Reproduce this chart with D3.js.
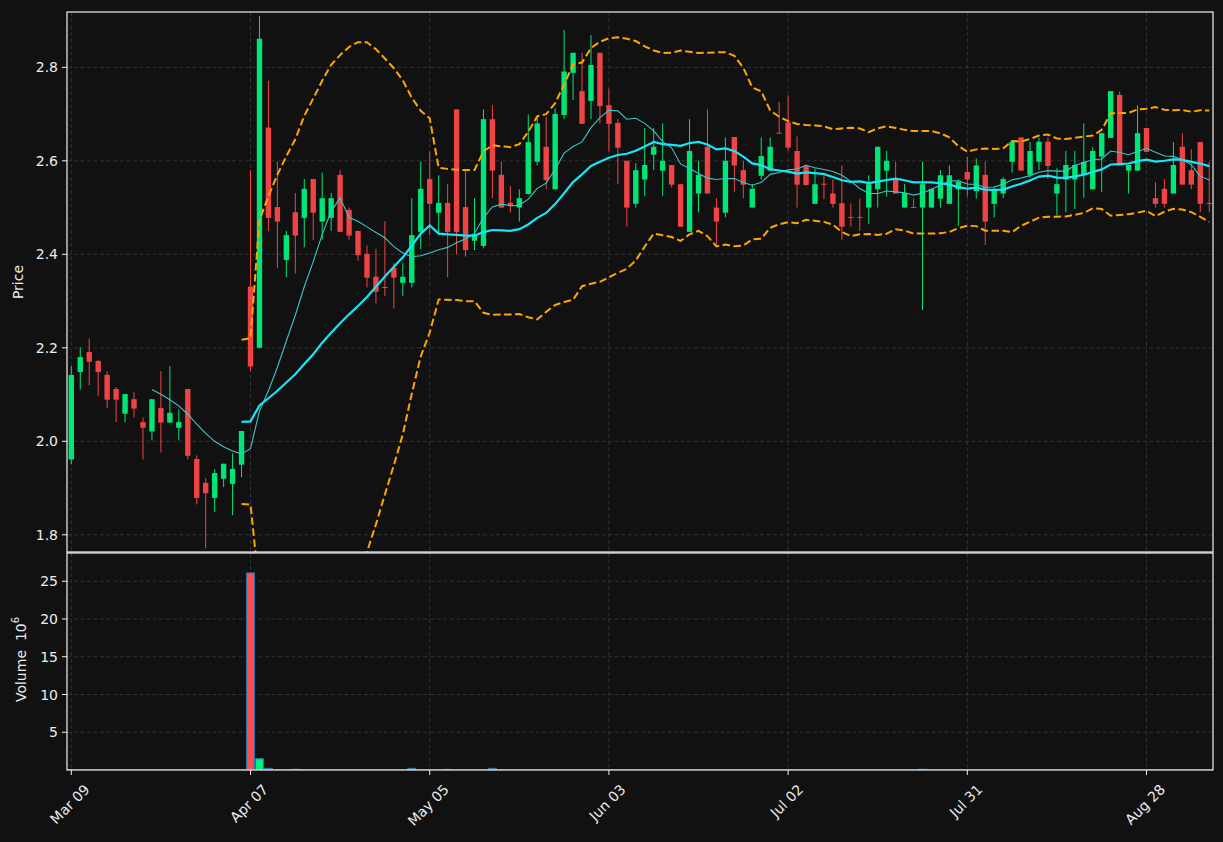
<!DOCTYPE html>
<html><head><meta charset="utf-8">
<script src="https://cdn.jsdelivr.net/npm/d3@7"></script>
<style>html,body{margin:0;background:#111111;} svg{display:block;font-family:"DejaVu Sans",sans-serif;}</style>
</head><body><svg id="c" width="1223" height="842"></svg>
<script>
// ---------- data ----------
const dates = [
"2015-03-09","2015-03-10","2015-03-11","2015-03-12","2015-03-13","2015-03-16","2015-03-17","2015-03-18","2015-03-19","2015-03-20",
"2015-03-23","2015-03-24","2015-03-25","2015-03-26","2015-03-27","2015-03-30","2015-03-31","2015-04-01","2015-04-02","2015-04-06",
"2015-04-07","2015-04-08","2015-04-09","2015-04-10","2015-04-13","2015-04-14","2015-04-15","2015-04-16","2015-04-17","2015-04-20",
"2015-04-21","2015-04-22","2015-04-23","2015-04-24","2015-04-27","2015-04-28","2015-04-29","2015-04-30","2015-05-01","2015-05-04",
"2015-05-05","2015-05-06","2015-05-07","2015-05-08","2015-05-11","2015-05-12","2015-05-13","2015-05-14","2015-05-15","2015-05-18",
"2015-05-19","2015-05-20","2015-05-21","2015-05-22","2015-05-26","2015-05-27","2015-05-28","2015-05-29","2015-06-01","2015-06-02",
"2015-06-03","2015-06-04","2015-06-05","2015-06-08","2015-06-09","2015-06-10","2015-06-11","2015-06-12","2015-06-15","2015-06-16",
"2015-06-17","2015-06-18","2015-06-22","2015-06-23","2015-06-24","2015-06-25","2015-06-26","2015-06-29","2015-06-30","2015-07-01",
"2015-07-02","2015-07-06","2015-07-07","2015-07-08","2015-07-09","2015-07-10","2015-07-13","2015-07-14","2015-07-15","2015-07-16",
"2015-07-17","2015-07-20","2015-07-21","2015-07-22","2015-07-23","2015-07-24","2015-07-27","2015-07-28","2015-07-29","2015-07-30",
"2015-07-31","2015-08-03","2015-08-04","2015-08-05","2015-08-06","2015-08-07","2015-08-10","2015-08-11","2015-08-12","2015-08-13",
"2015-08-14","2015-08-17","2015-08-18","2015-08-19","2015-08-20","2015-08-21","2015-08-24","2015-08-25","2015-08-26","2015-08-27",
"2015-08-28","2015-08-31","2015-09-01","2015-09-02","2015-09-03","2015-09-04","2015-09-08","2015-09-09"];

const open = [
1.961,2.148,2.191,2.172,2.142,2.112,2.059,2.090,2.041,2.021,
2.071,2.040,2.029,2.112,1.962,1.911,1.879,1.920,1.909,1.950,
2.331,2.200,2.671,2.501,2.388,2.490,2.478,2.561,2.470,2.478,
2.570,2.495,2.450,2.401,2.352,2.330,2.371,2.339,2.339,2.448,
2.561,2.489,2.510,2.710,2.501,2.429,2.418,2.689,2.570,2.510,
2.500,2.529,2.598,2.630,2.539,2.698,2.788,2.749,2.728,2.831,
2.719,2.681,2.600,2.508,2.560,2.613,2.579,2.591,2.550,2.448,
2.530,2.630,2.500,2.489,2.651,2.580,2.500,2.568,2.579,2.660,
2.682,2.621,2.590,2.508,2.551,2.530,2.509,2.480,2.480,2.500,
2.539,2.579,2.560,2.500,2.501,2.500,2.500,2.519,2.508,2.539,
2.576,2.535,2.570,2.508,2.530,2.598,2.650,2.570,2.598,2.641,
2.530,2.560,2.560,2.570,2.539,2.609,2.649,2.741,2.579,2.579,
2.670,2.520,2.540,2.530,2.630,2.580,2.640,2.510];
const high = [
2.161,2.201,2.220,2.173,2.150,2.116,2.101,2.105,2.051,2.090,
2.150,2.161,2.068,2.112,1.970,1.921,1.940,1.952,1.974,2.022,
2.580,2.910,2.771,2.598,2.450,2.531,2.561,2.561,2.575,2.531,
2.580,2.500,2.450,2.419,2.412,2.471,2.381,2.381,2.520,2.598,
2.620,2.569,2.550,2.710,2.580,2.520,2.710,2.719,2.598,2.546,
2.539,2.699,2.694,2.694,2.712,2.880,2.831,2.831,2.869,2.831,
2.755,2.689,2.600,2.595,2.670,2.670,2.680,2.591,2.550,2.689,
2.600,2.710,2.520,2.650,2.651,2.600,2.550,2.650,2.650,2.726,
2.740,2.652,2.590,2.583,2.568,2.560,2.590,2.509,2.519,2.569,
2.630,2.621,2.598,2.550,2.519,2.598,2.541,2.580,2.590,2.560,
2.609,2.605,2.598,2.545,2.565,2.644,2.650,2.640,2.649,2.650,
2.584,2.621,2.621,2.680,2.629,2.659,2.749,2.748,2.591,2.719,
2.670,2.554,2.561,2.640,2.659,2.625,2.640,2.598];
const low = [
1.951,2.111,2.120,2.096,2.071,2.041,2.041,2.051,1.961,2.002,
1.976,2.040,2.002,1.961,1.865,1.771,1.849,1.902,1.842,1.923,
2.150,2.199,2.450,2.370,2.351,2.359,2.415,2.431,2.431,2.450,
2.447,2.431,2.386,2.329,2.295,2.311,2.284,2.311,2.329,2.411,
2.441,2.441,2.351,2.400,2.395,2.409,2.413,2.520,2.500,2.489,
2.470,2.528,2.590,2.540,2.539,2.689,2.730,2.679,2.689,2.680,
2.620,2.550,2.459,2.500,2.524,2.580,2.525,2.543,2.459,2.448,
2.490,2.530,2.418,2.479,2.534,2.520,2.500,2.560,2.579,2.659,
2.621,2.500,2.548,2.508,2.518,2.500,2.431,2.459,2.450,2.465,
2.500,2.523,2.530,2.500,2.500,2.281,2.500,2.500,2.508,2.461,
2.523,2.519,2.420,2.479,2.520,2.575,2.579,2.563,2.580,2.561,
2.483,2.490,2.497,2.521,2.539,2.533,2.649,2.590,2.530,2.579,
2.619,2.500,2.500,2.530,2.549,2.539,2.490,2.490];
const close = [
2.142,2.180,2.170,2.148,2.089,2.089,2.101,2.070,2.029,2.090,
2.040,2.061,2.041,1.969,1.879,1.889,1.932,1.952,1.941,2.022,
2.160,2.861,2.478,2.470,2.441,2.440,2.540,2.489,2.520,2.520,
2.448,2.440,2.398,2.350,2.320,2.329,2.350,2.352,2.441,2.540,
2.508,2.510,2.448,2.448,2.409,2.441,2.689,2.579,2.500,2.505,
2.520,2.640,2.680,2.559,2.700,2.791,2.831,2.679,2.805,2.717,
2.679,2.628,2.500,2.580,2.591,2.630,2.600,2.549,2.459,2.621,
2.570,2.530,2.470,2.600,2.590,2.549,2.540,2.610,2.630,2.659,
2.628,2.549,2.548,2.550,2.550,2.508,2.459,2.479,2.479,2.550,
2.630,2.600,2.530,2.531,2.500,2.550,2.540,2.569,2.569,2.555,
2.560,2.590,2.470,2.537,2.561,2.641,2.579,2.621,2.641,2.589,
2.550,2.591,2.591,2.598,2.621,2.659,2.749,2.590,2.591,2.659,
2.619,2.508,2.508,2.591,2.549,2.549,2.508,2.509];
// volume in millions
const volume = [
0.02,0.02,0.02,0.02,0.02,0.02,0.02,0.02,0.02,0.02,
0.02,0.02,0.02,0.02,0.02,0.02,0.02,0.02,0.02,0.02,
26.1,1.50,0.22,0.02,0.02,0.10,0.02,0.02,0.02,0.02,
0.02,0.02,0.02,0.02,0.02,0.02,0.02,0.02,0.22,0.02,
0.02,0.02,0.08,0.02,0.02,0.02,0.02,0.22,0.02,0.02,
0.02,0.02,0.02,0.02,0.02,0.02,0.02,0.02,0.02,0.02,
0.02,0.02,0.02,0.02,0.02,0.02,0.02,0.02,0.02,0.02,
0.02,0.02,0.02,0.02,0.02,0.02,0.02,0.02,0.02,0.02,
0.02,0.02,0.02,0.02,0.02,0.02,0.02,0.02,0.02,0.02,
0.02,0.02,0.02,0.02,0.02,0.10,0.02,0.02,0.02,0.02,
0.02,0.02,0.02,0.02,0.02,0.02,0.02,0.02,0.02,0.02,
0.02,0.02,0.02,0.02,0.02,0.02,0.02,0.02,0.02,0.02,
0.02,0.02,0.02,0.02,0.02,0.02,0.02,0.02];

const priceTicks = [1.8, 2.0, 2.2, 2.4, 2.6, 2.8];
const priceTickLabels = ["1.8", "2.0", "2.2", "2.4", "2.6", "2.8"];
const volumeTicks = [5, 10, 15, 20, 25];
const volumeTickLabels = ["5", "10", "15", "20", "25"];
const xTickIndex = [0, 20, 40, 60, 80, 100, 120];
const maShort = 10, maLong = 20, bbWindow = 20, bbK = 2;

// ---------- layout ----------
const svg = d3.select("#c");
const W = 1223, H = 842;
const L = 67, R = 1213;
const pTop = 12, pBot = 552, vTop = 553, vBot = 770;
const C = {
  bg: "#111111", up: "#00e676", down: "#f04444", volUp: "#00f080", volDown: "#ff4d4d",
  volEdge: "#1f77b4", grid: "#3a3a3a", spine: "#f2f2f2", text: "#ececec",
  maS: "#3cc6c6", maL: "#16e6f5", bb: "#ffa500"
};
svg.append("rect").attr("width", W).attr("height", H).attr("fill", C.bg);

const n = close.length;
const x = d3.scaleLinear().domain([-0.48, 127.42]).range([L, R]);
const y = d3.scaleLinear().domain([1.7632, 2.9183]).range([pBot, pTop]);
const yv = d3.scaleLinear().domain([0, 28.74]).range([vBot, vTop]);
const parse = d3.timeParse("%Y-%m-%d"), fmt = d3.timeFormat("%b %d");

const defs = svg.append("defs");
defs.append("clipPath").attr("id", "cp").append("rect")
  .attr("x", L).attr("y", pTop).attr("width", R - L).attr("height", pBot - pTop);
defs.append("clipPath").attr("id", "cv").append("rect")
  .attr("x", L).attr("y", vTop).attr("width", R - L).attr("height", vBot - vTop);

// ---------- grids ----------
const grid = svg.append("g").attr("stroke", C.grid).attr("stroke-width", 0.8).attr("stroke-dasharray", "4,2.6");
priceTicks.forEach(t => grid.append("line").attr("x1", L).attr("x2", R).attr("y1", y(t)).attr("y2", y(t)));
volumeTicks.forEach(t => grid.append("line").attr("x1", L).attr("x2", R).attr("y1", yv(t)).attr("y2", yv(t)));
xTickIndex.forEach(i => {
  grid.append("line").attr("x1", x(i)).attr("x2", x(i)).attr("y1", pTop).attr("y2", pBot);
  grid.append("line").attr("x1", x(i)).attr("x2", x(i)).attr("y1", vTop).attr("y2", vBot);
});

// ---------- candles ----------
const data = d3.range(n).map(i => ({i, o: open[i], h: high[i], l: low[i], c: close[i], v: volume[i]}));
const bw = 0.6 * (x(1) - x(0));
const gC = svg.append("g").attr("clip-path", "url(#cp)");
gC.selectAll("line.w").data(data).join("line")
  .attr("x1", d => x(d.i)).attr("x2", d => x(d.i))
  .attr("y1", d => y(d.h)).attr("y2", d => y(d.l))
  .attr("stroke", d => d.c >= d.o ? C.up : C.down).attr("stroke-width", 1);
gC.selectAll("rect.b").data(data).join("rect")
  .attr("x", d => x(d.i) - bw / 2).attr("width", bw)
  .attr("y", d => y(Math.max(d.o, d.c)))
  .attr("height", d => Math.max(1, Math.abs(y(d.o) - y(d.c))))
  .attr("fill", d => d.c >= d.o ? C.up : C.down);

// ---------- indicators (rolling mean / population std of closes) ----------
function sma(w) { return close.map((_, i) => i < w - 1 ? null : d3.mean(close.slice(i - w + 1, i + 1))); }
function psd(w) {
  return close.map((_, i) => {
    if (i < w - 1) return null;
    const s = close.slice(i - w + 1, i + 1), m = d3.mean(s);
    return Math.sqrt(d3.mean(s, v => (v - m) * (v - m)));
  });
}
const ma10 = sma(maShort), ma20 = sma(maLong), bbMid = sma(bbWindow), bbSd = psd(bbWindow);
const bbUp = bbMid.map((m, i) => m == null ? null : m + bbK * bbSd[i]);
const bbLo = bbMid.map((m, i) => m == null ? null : m - bbK * bbSd[i]);
const line = d3.line().defined(d => d[1] != null).x(d => x(d[0])).y(d => y(d[1]));
const gL = svg.append("g").attr("clip-path", "url(#cp)").attr("fill", "none");
const toPts = arr => arr.map((v, i) => [i, v]);
gL.append("path").attr("d", line(toPts(bbUp))).attr("stroke", C.bb).attr("stroke-width", 2).attr("stroke-dasharray", "7.5,3.5");
gL.append("path").attr("d", line(toPts(bbLo))).attr("stroke", C.bb).attr("stroke-width", 2).attr("stroke-dasharray", "7.5,3.5");
gL.append("path").attr("d", line(toPts(ma10))).attr("stroke", C.maS).attr("stroke-width", 1.1);
gL.append("path").attr("d", line(toPts(ma20))).attr("stroke", C.maL).attr("stroke-width", 2.2);

// ---------- volume ----------
const vw = 0.88 * (x(1) - x(0));
svg.append("g").attr("clip-path", "url(#cv)").selectAll("rect").data(data).join("rect")
  .attr("x", d => x(d.i) - vw / 2).attr("width", vw)
  .attr("y", d => yv(d.v)).attr("height", d => yv(0) - yv(d.v))
  .attr("fill", d => d.c >= d.o ? C.volUp : C.volDown)
  .attr("stroke", C.volEdge).attr("stroke-width", 1);

// ---------- spines ----------
const sp = svg.append("g").attr("fill", "none").attr("stroke", C.spine).attr("stroke-width", 1.2);
sp.append("rect").attr("x", L).attr("y", pTop).attr("width", R - L).attr("height", pBot - pTop);
sp.append("rect").attr("x", L).attr("y", vTop).attr("width", R - L).attr("height", vBot - vTop);

// ---------- axes ----------
const fs = 14;
const axY = svg.append("g");
priceTicks.forEach((t, k) => {
  axY.append("line").attr("x1", L - 5).attr("x2", L).attr("y1", y(t)).attr("y2", y(t)).attr("stroke", C.spine);
  axY.append("text").attr("x", L - 9).attr("y", y(t)).attr("dy", "0.36em").attr("text-anchor", "end")
    .attr("fill", C.text).attr("font-size", fs).text(priceTickLabels[k]);
});
volumeTicks.forEach((t, k) => {
  axY.append("line").attr("x1", L - 5).attr("x2", L).attr("y1", yv(t)).attr("y2", yv(t)).attr("stroke", C.spine);
  axY.append("text").attr("x", L - 9).attr("y", yv(t)).attr("dy", "0.36em").attr("text-anchor", "end")
    .attr("fill", C.text).attr("font-size", fs).text(volumeTickLabels[k]);
});
svg.append("text").attr("transform", `translate(23,${(pTop + pBot) / 2}) rotate(-90)`)
  .attr("text-anchor", "middle").attr("fill", C.text).attr("font-size", fs).text("Price");
const vl = svg.append("text").attr("transform", `translate(26,${(vTop + vBot) / 2 - 2}) rotate(-90)`)
  .attr("text-anchor", "middle").attr("fill", C.text).attr("font-size", fs);
vl.append("tspan").text("Volume\u00a0\u00a010");
vl.append("tspan").attr("font-size", 10).attr("dy", -7).text("6");

xTickIndex.forEach(i => {
  svg.append("line").attr("x1", x(i)).attr("x2", x(i)).attr("y1", vBot).attr("y2", vBot + 5).attr("stroke", C.spine);
  const t = svg.append("text").attr("fill", C.text).attr("font-size", fs).attr("text-anchor", "middle")
    .attr("dominant-baseline", "central").text(fmt(parse(dates[i])));
  const w = t.node().getComputedTextLength();
  const bh = (w + fs * 1.0) * Math.SQRT1_2;
  t.attr("transform", `translate(${x(i) - 1.5},${vBot + 12 + bh / 2}) rotate(-45)`);
});
</script></body></html>
